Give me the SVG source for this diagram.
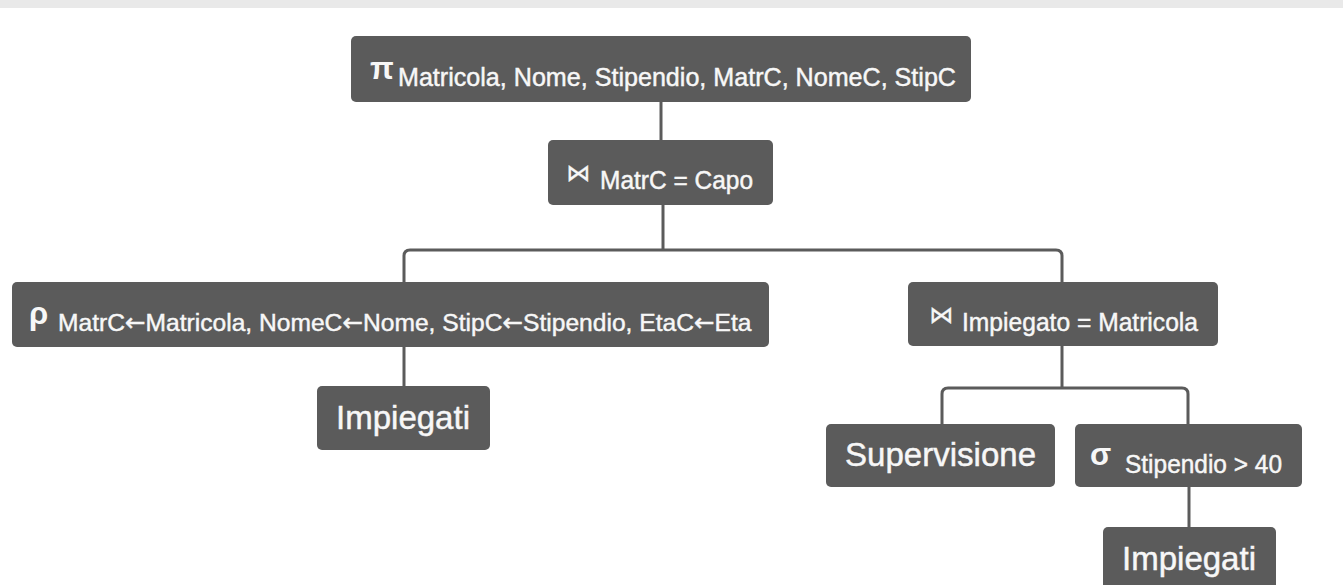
<svg xmlns="http://www.w3.org/2000/svg" width="1343" height="585" viewBox="0 0 1343 585">
  <style>
    .box { fill: #5b5b5b; }
    .t { fill: #f7f7f7; stroke: #f7f7f7; stroke-width: 0.45; font-family: "Liberation Sans", "DejaVu Sans", sans-serif; }
    .sym { font-size: 31px; font-weight: bold; stroke-width: 0; }
    .join { font-size: 24px; font-family: "DejaVu Sans", "Liberation Sans", sans-serif; stroke-width: 0.3; }
    .sub { font-size: 25px; }
    .arr { font-family: "DejaVu Sans", sans-serif; }
    .big { font-size: 33px; }
    .conn { fill: none; stroke: #5b5b5b; stroke-width: 3; }
  </style>
  <rect x="0" y="0" width="1343" height="585" fill="#ffffff"/>
  <rect x="0" y="0" width="1343" height="8" fill="#e9e9e9"/>

  <g id="connectors">
    <path class="conn" d="M661 102 V140"/>
    <path class="conn" d="M663 205 V250"/>
    <path class="conn" d="M404 282 V256 Q404 250 410 250 H1056 Q1062 250 1062 256 V282"/>
    <path class="conn" d="M404 347 V386"/>
    <path class="conn" d="M1062 346 V388"/>
    <path class="conn" d="M942 424 V394 Q942 388 948 388 H1182 Q1188 388 1188 394 V424"/>
    <path class="conn" d="M1189 487 V527"/>
  </g>

  <g id="node-projection">
    <rect class="box" x="351" y="36" width="620" height="66" rx="5"/>
    <text class="t sym" x="370" y="79">π</text>
    <text class="t sub" x="398" y="86" textLength="558" lengthAdjust="spacingAndGlyphs">Matricola, Nome, Stipendio, MatrC, NomeC, StipC</text>
  </g>

  <g id="node-join-capo">
    <rect class="box" x="548" y="140" width="225" height="65" rx="5"/>
    <text class="t join" x="566" y="181">⋈</text>
    <text class="t sub" x="600" y="189" textLength="153" lengthAdjust="spacingAndGlyphs">MatrC = Capo</text>
  </g>

  <g id="node-rename">
    <rect class="box" x="12" y="282" width="757" height="65" rx="5"/>
    <text class="t sym" x="29" y="324">ρ</text>
    <text class="t" x="58" y="331" font-size="24.6">MatrC<tspan class="arr">←</tspan>Matricola, NomeC<tspan class="arr">←</tspan>Nome, StipC<tspan class="arr">←</tspan>Stipendio, EtaC<tspan class="arr">←</tspan>Eta</text>
  </g>

  <g id="node-join-impiegato">
    <rect class="box" x="908" y="282" width="310" height="64" rx="5"/>
    <text class="t join" x="929" y="323">⋈</text>
    <text class="t sub" x="962" y="331" textLength="236" lengthAdjust="spacingAndGlyphs">Impiegato = Matricola</text>
  </g>

  <g id="node-impiegati-left">
    <rect class="box" x="317" y="386" width="173" height="64" rx="5"/>
    <text class="t big" x="336" y="429" textLength="134" lengthAdjust="spacingAndGlyphs">Impiegati</text>
  </g>

  <g id="node-supervisione">
    <rect class="box" x="826" y="424" width="229" height="63" rx="5"/>
    <text class="t big" x="845" y="466" textLength="191" lengthAdjust="spacingAndGlyphs">Supervisione</text>
  </g>

  <g id="node-selection">
    <rect class="box" x="1075" y="424" width="227" height="63" rx="5"/>
    <text class="t sym" x="1090" y="465">σ</text>
    <text class="t sub" x="1125" y="473" textLength="157" lengthAdjust="spacingAndGlyphs">Stipendio &gt; 40</text>
  </g>

  <g id="node-impiegati-right">
    <rect class="box" x="1103" y="527" width="173" height="64" rx="5"/>
    <text class="t big" x="1122" y="570" textLength="134" lengthAdjust="spacingAndGlyphs">Impiegati</text>
  </g>
</svg>
